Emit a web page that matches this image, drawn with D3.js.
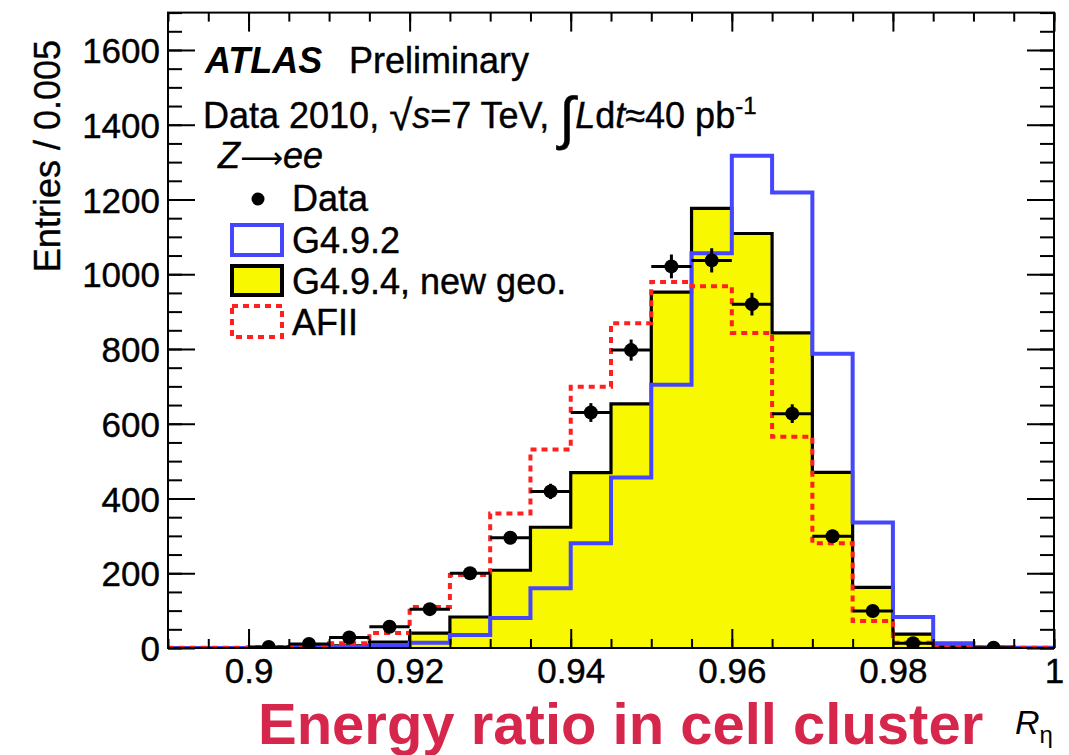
<!DOCTYPE html>
<html>
<head>
<meta charset="utf-8">
<script src="https://cdn.jsdelivr.net/npm/d3@7"></script>
<style>
  body { margin: 0; background: #fff; }
  svg { display: block; }
  text { font-family: "Liberation Sans", Arial, Helvetica, sans-serif; fill: #000; }
</style>
</head>
<body>
<svg id="chart" width="1069" height="755"></svg>
<script>
// Lower edges of the R_eta bins (width 0.005)
const binLow = [0.890, 0.895, 0.900, 0.905, 0.910, 0.915, 0.920, 0.925, 0.930, 0.935, 0.940,
                0.945, 0.950, 0.955, 0.960, 0.965, 0.970, 0.975, 0.980, 0.985, 0.990, 0.995];
const binWidth = 0.005;

// Simulation: G4.9.4 with new geometry (filled)
const g494 = [0, 0, 1, 3, 6, 16, 40, 83, 208, 323, 469, 653, 952, 1176, 1109, 843, 470, 162, 37, 3, 1, 0];
// Simulation: G4.9.2
const g492 = [0, 0, 0, 1, 3, 8, 14, 35, 80, 160, 280, 456, 704, 1056, 1317, 1219, 787, 336, 83, 13, 2, 1];
// Simulation: ATLFAST-II
const afii = [1, 1, 2, 3, 13, 40, 110, 195, 360, 531, 699, 869, 979, 968, 843, 565, 280, 72, 14, 3, 2, 1];
// Data 2010 (empty bins are not drawn)
const dataCounts = [null, null, 3, 11, 28, 57, 104, 200, 295, 419, 630, 797, 1021, 1037, 920, 627, 299, 99, 13, null, 1, null];

const xMajor = [0.9, 0.92, 0.94, 0.96, 0.98, 1.0];
const xMajorLabels = ["0.9", "0.92", "0.94", "0.96", "0.98", "1"];
const yMajor = [0, 200, 400, 600, 800, 1000, 1200, 1400, 1600];
const yMajorLabels = ["0", "200", "400", "600", "800", "1000", "1200", "1400", "1600"];

const svg = d3.select("#chart");
const frame = { left: 168, right: 1054, top: 12.6, bottom: 648 };

const x = d3.scaleLinear().domain([0.89, 1.0]).range([frame.left, frame.right]);
const y = d3.scaleLinear().domain([0, 1700]).range([frame.bottom, frame.top]);

const BLUE = "#4646ff", RED = "#ff2020", YELLOW = "#f8f800", CRIMSON = "#d7264b";

svg.append("defs").append("clipPath").attr("id", "plotClip")
  .append("rect")
  .attr("x", frame.left).attr("y", frame.top)
  .attr("width", frame.right - frame.left).attr("height", frame.bottom - frame.top);

// Step outline of a histogram: rises from the axis at the first edge, falls back at the last one
function stepPoints(values) {
  const pts = [[binLow[0], 0]];
  values.forEach((v, i) => {
    pts.push([binLow[i], v]);
    pts.push([binLow[i] + binWidth, v]);
  });
  pts.push([binLow[binLow.length - 1] + binWidth, 0]);
  return pts;
}

const stepLine = d3.line().x(d => x(d[0])).y(d => y(d[1]));
const stepArea = d3.area().x(d => x(d[0])).y0(y(0)).y1(d => y(d[1]));

const plot = svg.append("g").attr("clip-path", "url(#plotClip)");

// G4.9.4, new geometry: yellow fill with black outline
plot.append("path").datum(stepPoints(g494))
  .attr("d", stepArea).attr("fill", YELLOW).attr("stroke", "none");
plot.append("path").datum(stepPoints(g494))
  .attr("d", stepLine).attr("fill", "none").attr("stroke", "#000")
  .attr("stroke-width", 3.2).attr("stroke-linejoin", "miter");

// G4.9.2: blue outline
plot.append("path").datum(stepPoints(g492))
  .attr("d", stepLine).attr("fill", "none").attr("stroke", BLUE)
  .attr("stroke-width", 4).attr("stroke-linejoin", "miter");

// AFII: red dotted outline
plot.append("path").datum(stepPoints(afii))
  .attr("d", stepLine).attr("fill", "none").attr("stroke", RED)
  .attr("stroke-width", 4).attr("stroke-dasharray", "6,5");

// Data points with statistical error bars
const pts = binLow.map((lo, i) => ({ lo, hi: lo + binWidth, c: lo + binWidth / 2, v: dataCounts[i] }))
  .filter(d => d.v !== null);

const dataG = plot.append("g");
dataG.selectAll("line.h").data(pts).join("line")
  .attr("class", "h")
  .attr("x1", d => x(d.lo)).attr("x2", d => x(d.hi))
  .attr("y1", d => y(d.v)).attr("y2", d => y(d.v))
  .attr("stroke", "#000").attr("stroke-width", 3);
dataG.selectAll("line.v").data(pts).join("line")
  .attr("class", "v")
  .attr("x1", d => x(d.c)).attr("x2", d => x(d.c))
  .attr("y1", d => y(d.v + Math.sqrt(d.v))).attr("y2", d => y(Math.max(0, d.v - Math.sqrt(d.v))))
  .attr("stroke", "#000").attr("stroke-width", 3);
dataG.selectAll("circle").data(pts).join("circle")
  .attr("cx", d => x(d.c)).attr("cy", d => y(d.v)).attr("r", 7)
  .attr("fill", "#000");

// Frame
svg.append("rect")
  .attr("x", frame.left).attr("y", frame.top)
  .attr("width", frame.right - frame.left).attr("height", frame.bottom - frame.top)
  .attr("fill", "none").attr("stroke", "#000").attr("stroke-width", 2);

// Ticks on all four sides, pointing into the frame
const xMinor = d3.range(0, 23).map(i => 0.89 + i * binWidth);
const yMinor = d3.range(0, 35).map(i => i * 50);

function axisStyle(g) {
  g.select(".domain").remove();
  g.selectAll(".tick line").attr("stroke", "#000").attr("stroke-width", 2);
}

svg.append("g").attr("transform", `translate(0,${frame.bottom})`)
  .call(d3.axisBottom(x).tickValues(xMinor).tickSize(-9).tickFormat(""))
  .call(axisStyle);
svg.append("g").attr("transform", `translate(0,${frame.top})`)
  .call(d3.axisTop(x).tickValues(xMinor).tickSize(-9).tickFormat(""))
  .call(axisStyle);
svg.append("g").attr("transform", `translate(0,${frame.top})`)
  .call(d3.axisTop(x).tickValues(xMajor).tickSize(-19).tickFormat(""))
  .call(axisStyle);

const xAxis = svg.append("g").attr("transform", `translate(0,${frame.bottom})`)
  .call(d3.axisBottom(x).tickValues(xMajor).tickSize(-19).tickPadding(0)
        .tickFormat((d, i) => xMajorLabels[i]))
  .call(axisStyle);
xAxis.selectAll(".tick text")
  .attr("y", 35).attr("dy", 0)
  .attr("font-size", 35).attr("font-family", '"Liberation Sans", Arial, sans-serif')
  .attr("fill", "#000").attr("stroke", "#000").attr("stroke-width", 0.4);

svg.append("g").attr("transform", `translate(${frame.left},0)`)
  .call(d3.axisLeft(y).tickValues(yMinor.filter(v => v <= 1700)).tickSize(-14).tickFormat(""))
  .call(axisStyle);
svg.append("g").attr("transform", `translate(${frame.right},0)`)
  .call(d3.axisRight(y).tickValues(yMinor.filter(v => v <= 1700)).tickSize(-14).tickFormat(""))
  .call(axisStyle);
svg.append("g").attr("transform", `translate(${frame.right},0)`)
  .call(d3.axisRight(y).tickValues(yMajor).tickSize(-27).tickFormat(""))
  .call(axisStyle);

const yAxis = svg.append("g").attr("transform", `translate(${frame.left},0)`)
  .call(d3.axisLeft(y).tickValues(yMajor).tickSize(-27).tickPadding(8)
        .tickFormat((d, i) => yMajorLabels[i]))
  .call(axisStyle);
yAxis.selectAll(".tick text")
  .attr("dy", "0.36em")
  .attr("font-size", 35).attr("font-family", '"Liberation Sans", Arial, sans-serif')
  .attr("fill", "#000").attr("stroke", "#000").attr("stroke-width", 0.4);

// Axis titles
svg.append("text")
  .attr("transform", "translate(60,40) rotate(-90)")
  .attr("text-anchor", "end").attr("font-size", 36)
  .attr("stroke", "#000").attr("stroke-width", 0.4)
  .text("Entries / 0.005");

svg.append("text").attr("x", 258).attr("y", 744)
  .attr("font-size", 58).attr("font-weight", "bold").style("fill", CRIMSON)
  .text("Energy ratio in cell cluster");

const rLabel = svg.append("text").attr("x", 1015).attr("y", 734).attr("font-size", 34);
rLabel.append("tspan").attr("font-style", "italic").text("R");
rLabel.append("tspan").attr("font-size", 24).attr("dy", 9).text("η");

// Experiment label and run conditions
svg.append("text").attr("x", 205).attr("y", 73).attr("font-size", 36)
  .attr("font-weight", "bold").attr("font-style", "italic").text("ATLAS");
svg.append("text").attr("x", 349).attr("y", 73).attr("font-size", 36)
  .attr("stroke", "#000").attr("stroke-width", 0.4).text("Preliminary");

const cond = svg.append("text").attr("x", 203).attr("y", 128).attr("font-size", 36)
  .attr("stroke", "#000").attr("stroke-width", 0.4);
cond.append("tspan").text("Data 2010,  ");
cond.append("tspan").attr("font-size", 42).attr("dy", 2).text("√");
cond.append("tspan").attr("font-style", "italic").attr("dy", -2).text("s");
cond.append("tspan").text("=7 TeV, ");
cond.append("tspan").attr("font-size", 58).attr("dy", 10).text("∫");
cond.append("tspan").attr("font-style", "italic").attr("dy", -10).text("L");
cond.append("tspan").text("d");
cond.append("tspan").attr("font-style", "italic").text("t");
cond.append("tspan").text("≈40 pb");
cond.append("tspan").attr("font-size", 24).attr("dy", -14).text("-1");

// Legend
const zee = svg.append("text").attr("x", 218).attr("y", 168).attr("font-size", 36)
  .attr("stroke", "#000").attr("stroke-width", 0.4);
zee.append("tspan").attr("font-style", "italic").text("Z");
zee.append("tspan").attr("font-family", '"DejaVu Sans", sans-serif').attr("font-size", 30)
  .attr("stroke-width", 0).text("⟶");
zee.append("tspan").attr("font-style", "italic").text("ee");

const legend = svg.append("g");
legend.append("circle").attr("cx", 258).attr("cy", 199).attr("r", 6.5).attr("fill", "#000");
legend.append("rect").attr("x", 232).attr("y", 225).attr("width", 50).attr("height", 30)
  .attr("fill", "#fff").attr("stroke", BLUE).attr("stroke-width", 4);
legend.append("rect").attr("x", 232).attr("y", 266).attr("width", 50).attr("height", 29)
  .attr("fill", YELLOW).attr("stroke", "#000").attr("stroke-width", 4);
legend.append("rect").attr("x", 232).attr("y", 306).attr("width", 50).attr("height", 31)
  .attr("fill", "#fff").attr("stroke", RED).attr("stroke-width", 4).attr("stroke-dasharray", "6,5");

const legendLabels = ["Data", "G4.9.2", "G4.9.4, new geo.", "AFII"];
const legendBaselines = [211, 253, 294, 335];
legend.selectAll("text.lab").data(legendLabels).join("text")
  .attr("class", "lab")
  .attr("x", 292).attr("y", (d, i) => legendBaselines[i])
  .attr("font-size", 36).attr("stroke", "#000").attr("stroke-width", 0.4)
  .text(d => d);
</script>
</body>
</html>
